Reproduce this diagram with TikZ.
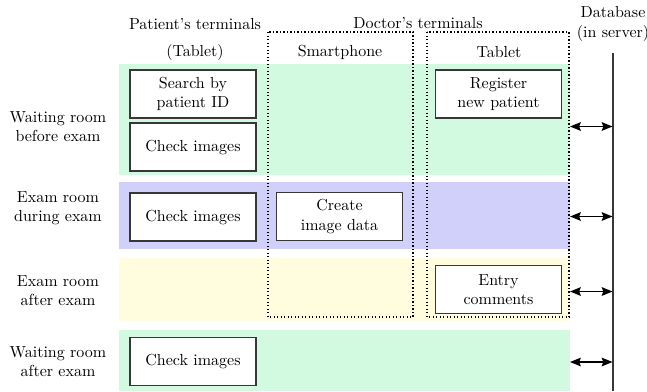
\documentclass[tikz,border=0pt]{standalone}
\usetikzlibrary{arrows.meta}
\definecolor{waitgreen}{RGB}{210,250,225}
\definecolor{examblue}{RGB}{208,208,250}
\definecolor{afteryellow}{RGB}{255,253,222}
\definecolor{boxline}{RGB}{55,55,55}
\tikzset{
  txt/.style={font=\fontsize{9.6}{11.5}\selectfont, inner sep=0pt, align=center},
  task/.style={txt, draw=boxline, line width=0.75pt, fill=white,
    minimum width=75.6pt, minimum height=28.8pt},
  dotbox/.style={line width=0.65pt, dash pattern=on 0.65pt off 1.45pt},
  dblink/.style={line width=0.8pt, {Stealth[length=6.5pt,width=5.2pt,inset=1pt]}-{Stealth[length=6.5pt,width=5.2pt,inset=1pt]}}
}
\begin{document}
\begin{tikzpicture}[x=0.6pt,y=-0.6pt]
\useasboundingbox (0,0) rectangle (647,391);

% scene bands
\fill[waitgreen] (119,64) rectangle (570,175);
\fill[examblue] (119,182) rectangle (570,249);
\fill[afteryellow] (119,258) rectangle (570,321);
\fill[waitgreen] (119,330) rectangle (570,391);

% doctor's terminal groups
\draw[dotbox] (268,32) rectangle (413,317);
\draw[dotbox] (427,32) rectangle (569,317);

% column headings
\node[txt] (pat) at (195,24) {Patient's terminals};
\node[txt] (pattab) at (195,52) {(Tablet)};
\node[txt] (doc) at (418,23) {Doctor's terminals};
\node[txt] (smart) at (340,52) {Smartphone};
\node[txt] (doctab) at (499,52) {Tablet};
\node[txt] (db) at (613,24) {Database\\(in server)};

% row headings
\node[txt] (r1) at (58,127) {Waiting room\\before exam};
\node[txt] (r2) at (58,208) {Exam room\\during exam};
\node[txt] (r3) at (58,291) {Exam room\\after exam};
\node[txt] (r4) at (58,362) {Waiting room\\after exam};

% tasks
\node[task] (search) at (193,94) {Search by\\patient ID};
\node[task] (check1) at (193,147) {Check images};
\node[task] (check2) at (193,217) {Check images};
\node[task] (check3) at (193,361.5) {Check images};
\node[task] (create) at (339.5,216.5) {Create\\image data};
\node[task] (register) at (498.5,94) {Register\\new patient};
\node[task] (entry) at (498.5,289.5) {Entry\\comments};

% database line
\coordinate (dbtop) at (613,53);
\coordinate (dbbot) at (613,391);
\draw[line width=0.8pt, boxline] (dbtop) -- (dbbot);

% links to the database
\coordinate (l1) at (570,126.5); \coordinate (d1) at (612.5,126.5);
\coordinate (l2) at (570,216.5); \coordinate (d2) at (612.5,216.5);
\coordinate (l3) at (570,291.5); \coordinate (d3) at (612.5,291.5);
\coordinate (l4) at (570,362); \coordinate (d4) at (612.5,362);
\draw[dblink] (l1) -- (d1);
\draw[dblink] (l2) -- (d2);
\draw[dblink] (l3) -- (d3);
\draw[dblink] (l4) -- (d4);
\end{tikzpicture}
\end{document}
